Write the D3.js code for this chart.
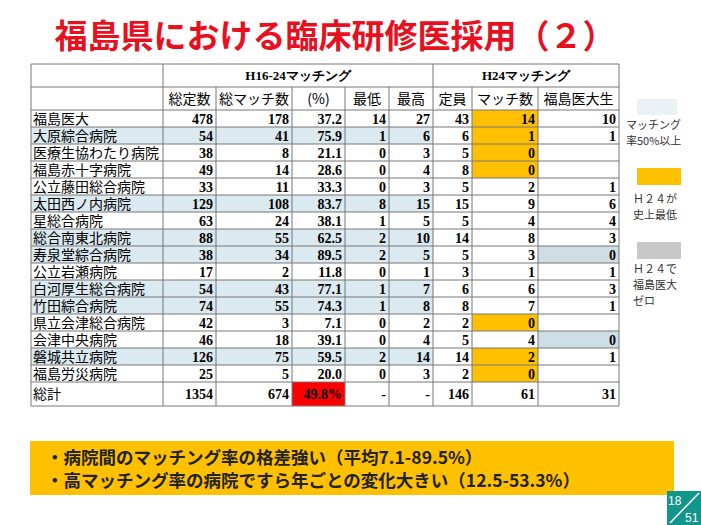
<!DOCTYPE html>
<html><head><meta charset="utf-8">
<script src="https://cdn.jsdelivr.net/npm/d3@7"></script>
<style>body{margin:0;background:#fff}svg{display:block}</style>
</head><body><div id="chart"></div>
<script>
// 病院名と各列の値
const hospitals = ['福島医大','大原綜合病院','医療生協わたり病院','福島赤十字病院','公立藤田総合病院','太田西ノ内病院','星総合病院','総合南東北病院','寿泉堂綜合病院','公立岩瀬病院','白河厚生総合病院','竹田綜合病院','県立会津総合病院','会津中央病院','磐城共立病院','福島労災病院'];
const totalCap = [478,54,38,49,33,129,63,88,38,17,54,74,42,46,126,25];
const totalMatch = [178,41,8,14,11,108,24,55,34,2,43,55,3,18,75,5];
const matchPct = ['37.2','75.9','21.1','28.6','33.3','83.7','38.1','62.5','89.5','11.8','77.1','74.3','7.1','39.1','59.5','20.0'];
const minMatch = [14,1,0,0,0,8,1,2,2,0,1,1,0,0,2,0];
const maxMatch = [27,6,3,4,3,15,5,10,5,1,7,8,2,4,14,3];
const cap24 = [43,6,5,8,5,15,5,14,5,3,6,8,2,5,14,2];
const match24 = [14,1,0,0,2,9,4,8,3,1,6,7,0,4,2,0];
const fmuGrad = [10,1,'','',1,6,4,3,0,1,3,1,'',0,1,''];
const totalRow = ['総計','1354','674','49.8%','-','-','146','61','31'];
const headers = ['','総定数','総マッチ数','(%)','最低','最高','定員','マッチ数','福島医大生'];
const lowest24 = new Set(['福島医大','大原綜合病院','医療生協わたり病院','福島赤十字病院','県立会津総合病院','磐城共立病院','福島労災病院']);
const zeroFmu = new Set(['寿泉堂綜合病院','会津中央病院']);

const W = 701, H = 525;
const svg = d3.select('#chart').append('svg').attr('width', W).attr('height', H);
const serif = '"Liberation Serif","DejaVu Serif",serif';
const jp = '"Noto Sans CJK JP",sans-serif';

// タイトル
svg.append('text').attr('x', 335).attr('y', 48).attr('text-anchor', 'middle')
  .attr('font-family', jp).attr('font-weight', 'bold').attr('font-size', 33)
  .attr('fill', '#e8101e').text('福島県における臨床研修医採用（２）');

// 列の境界
const colEdges = [31,163,216,292,345,389,433,472,538,619];
const tableTop = 64;
const y = d3.scaleBand().domain(d3.range(16)).range([110, 382]);
const g = svg.append('g');

const rows = hospitals.map((h, i) => [h, totalCap[i], totalMatch[i], matchPct[i], minMatch[i], maxMatch[i], cap24[i], match24[i], fmuGrad[i]]);

// 背景色
rows.forEach((r, i) => {
  const yy = y(i), hh = y.bandwidth();
  if (+matchPct[i] >= 50) g.append('rect').attr('x', colEdges[0]).attr('y', yy).attr('width', colEdges[6]-colEdges[0]).attr('height', hh).attr('fill', '#dbe9f1');
  if (lowest24.has(r[0])) g.append('rect').attr('x', colEdges[7]).attr('y', yy).attr('width', colEdges[8]-colEdges[7]).attr('height', hh).attr('fill', '#ffc000');
  if (zeroFmu.has(r[0])) g.append('rect').attr('x', colEdges[8]).attr('y', yy).attr('width', colEdges[9]-colEdges[8]).attr('height', hh).attr('fill', '#cfdde4');
});
g.append('rect').attr('x', colEdges[3]).attr('y', 382).attr('width', colEdges[4]-colEdges[3]).attr('height', 24).attr('fill', '#ff0000');

// ヘッダー
g.append('text').attr('x', (colEdges[1]+colEdges[6])/2).attr('y', 80).attr('text-anchor', 'middle')
  .attr('font-family', serif).attr('font-weight', 'bold').attr('font-size', 13).text('H16-24マッチング');
g.append('text').attr('x', (colEdges[6]+colEdges[9])/2).attr('y', 80).attr('text-anchor', 'middle')
  .attr('font-family', serif).attr('font-weight', 'bold').attr('font-size', 13).text('H24マッチング');
headers.forEach((h, j) => {
  if (!h) return;
  g.append('text').attr('x', (colEdges[j]+colEdges[j+1])/2).attr('y', 104).attr('text-anchor', 'middle')
    .attr('font-family', jp).attr('font-size', 14).text(h);
});

// 本体
rows.forEach((r, i) => {
  r.forEach((v, j) => {
    if (v === '') return;
    const t = g.append('text').attr('y', y(i) + 14);
    if (j === 0) t.attr('x', colEdges[0] + 2).attr('font-family', jp).attr('font-size', 14).text(v);
    else t.attr('x', colEdges[j+1] - 3).attr('text-anchor', 'end').attr('font-family', serif).attr('font-weight', 'bold').attr('font-size', 14).text(v);
  });
});
totalRow.forEach((v, j) => {
  const t = g.append('text').attr('y', 399).attr('font-size', 14);
  if (j === 0) t.attr('x', colEdges[0] + 2).attr('font-family', jp).text(v);
  else t.attr('x', colEdges[j+1] - 3).attr('text-anchor', 'end').attr('font-family', serif).attr('font-weight', 'bold').text(v);
});

// 罫線
const hLines = [tableTop, 87].concat(d3.range(17).map(i => 110 + i * y.bandwidth())).concat([406]);
hLines.forEach(yy => g.append('line').attr('x1', colEdges[0]).attr('x2', colEdges[9]).attr('y1', yy).attr('y2', yy).attr('stroke', '#777').attr('stroke-width', 1));
colEdges.forEach((xx, j) => {
  const y1 = (j === 0 || j === 1 || j === 6 || j === 9) ? tableTop : 87;
  g.append('line').attr('x1', xx).attr('x2', xx).attr('y1', y1).attr('y2', 406).attr('stroke', '#777').attr('stroke-width', 1);
});

// 凡例
const lg = svg.append('g').attr('font-family', jp).attr('font-size', 11).attr('fill', '#333');
lg.append('rect').attr('x', 637).attr('y', 99).attr('width', 40).attr('height', 16).attr('fill', '#eaf2f6');
lg.append('text').attr('x', 626).attr('y', 129).text('マッチング');
lg.append('text').attr('x', 626).attr('y', 145).text('率50%以上');
lg.append('rect').attr('x', 637).attr('y', 168).attr('width', 44).attr('height', 17).attr('fill', '#ffc000');
lg.append('text').attr('x', 633).attr('y', 203).text('Ｈ２４が');
lg.append('text').attr('x', 633).attr('y', 219).text('史上最低');
lg.append('rect').attr('x', 637).attr('y', 242).attr('width', 44).attr('height', 17).attr('fill', '#c8c8c8');
lg.append('text').attr('x', 633).attr('y', 273).text('Ｈ２４で');
lg.append('text').attr('x', 633).attr('y', 289).text('福島医大');
lg.append('text').attr('x', 633).attr('y', 305).text('ゼロ');

// 下部ボックス
svg.append('rect').attr('x', 30).attr('y', 441).attr('width', 644).attr('height', 54).attr('fill', '#ffc000');
const notes = ['・病院間のマッチング率の格差強い（平均7.1-89.5%）', '・高マッチング率の病院ですら年ごとの変化大きい（12.5-53.3%）'];
notes.forEach((n, i) => svg.append('text').attr('x', 46).attr('y', 464 + i * 23)
  .attr('font-family', jp).attr('font-weight', 'bold').attr('font-size', 17.5).attr('fill', '#222').text(n));

// ページ番号
svg.append('rect').attr('x', 667).attr('y', 491).attr('width', 34).attr('height', 34).attr('fill', '#12968c');
svg.append('line').attr('x1', 670).attr('y1', 523).attr('x2', 699).attr('y2', 493).attr('stroke', '#fff').attr('stroke-width', 1.5);
svg.append('text').attr('x', 668).attr('y', 505).attr('font-family', '"Liberation Sans",sans-serif').attr('font-size', 12).attr('fill', '#fff').text('18');
svg.append('text').attr('x', 685).attr('y', 522).attr('font-family', '"Liberation Sans",sans-serif').attr('font-size', 12).attr('fill', '#fff').text('51');
</script></body></html>
